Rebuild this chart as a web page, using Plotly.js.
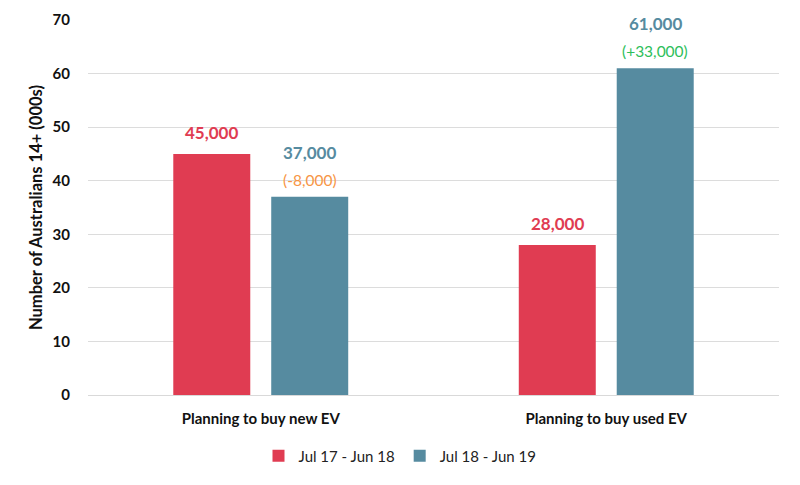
<!DOCTYPE html>
<html>
<head>
<meta charset="utf-8">
<script src="https://cdn.plot.ly/plotly-3.0.1.min.js"></script>
<style>
  html, body { margin: 0; padding: 0; background: #fff; }
  #chart { width: 800px; height: 485px; }
</style>
</head>
<body>
<div id="chart"></div>
<script>
const categories = ['Planning to buy new EV', 'Planning to buy used EV'];
const seriesNames = ['Jul 17 - Jun 18', 'Jul 18 - Jun 19'];
const period1 = [45, 28];
const period2 = [37, 61];
const changes = [-8, 33];

const red = '#E03C52';
const teal = '#568BA0';
const font = 'Lato, "Open Sans", sans-serif';

function fmt(v) {
    return (v * 1000).toLocaleString('en-US');
}

const traces = [
    { x: categories, y: period1, name: seriesNames[0], type: 'bar', marker: { color: red } },
    { x: categories, y: period2, name: seriesNames[1], type: 'bar', marker: { color: teal } }
];

// value labels above each bar, plus change label for the second period
const annotations = [];
categories.forEach((c, i) => {
    annotations.push({
        x: c, y: period1[i], xref: 'x', yref: 'y', xshift: -49, yshift: 9,
        yanchor: 'bottom', showarrow: false, text: '<b>' + fmt(period1[i]) + '</b>',
        font: { family: font, size: 17, color: red }
    });
    annotations.push({
        x: c, y: period2[i], xref: 'x', yref: 'y', xshift: 49, yshift: 32,
        yanchor: 'bottom', showarrow: false, text: '<b>' + fmt(period2[i]) + '</b>',
        font: { family: font, size: 17, color: teal }
    });
    const ch = changes[i];
    annotations.push({
        x: c, y: period2[i], xref: 'x', yref: 'y', xshift: 49, yshift: 6,
        yanchor: 'bottom', showarrow: false,
        text: '(' + (ch > 0 ? '+' : '-') + fmt(Math.abs(ch)) + ')',
        font: { family: font, size: 15.5, color: ch > 0 ? '#2DBE5A' : '#F79646' }
    });
});

const layout = {
    width: 800,
    height: 485,
    margin: { l: 88, r: 21, t: 20, b: 90 },
    paper_bgcolor: '#fff',
    plot_bgcolor: '#fff',
    font: { family: font, size: 14, color: '#111' },
    barmode: 'group',
    bargap: 0.433,
    bargroupgap: 0.214,
    showlegend: true,
    legend: {
        orientation: 'h', x: 0.5, xanchor: 'center', xref: 'container',
        y: 0.06, yanchor: 'middle', yref: 'container',
        font: { family: font, size: 15, color: '#222' }
    },
    xaxis: {
        showgrid: false, showline: true, linecolor: '#d9d9d9', linewidth: 1,
        ticks: 'outside', ticklen: 10, tickcolor: 'rgba(0,0,0,0)',
        tickfont: { family: font, size: 15, color: '#111', weight: 'bold' }
    },
    yaxis: {
        range: [0, 70], dtick: 10, showgrid: true, gridcolor: '#dcdcdc',
        zeroline: false, ticks: 'outside', ticklen: 14, tickcolor: 'rgba(0,0,0,0)',
        tickfont: { family: font, size: 15, color: '#111', weight: 'bold' },
        title: { text: '<b>Number of Australians 14+ (000s)</b>', font: { family: font, size: 16.5, color: '#111' }, standoff: 5 }
    },
    annotations: annotations
};

Plotly.newPlot('chart', traces, layout, { displayModeBar: false });
</script>
</body>
</html>
